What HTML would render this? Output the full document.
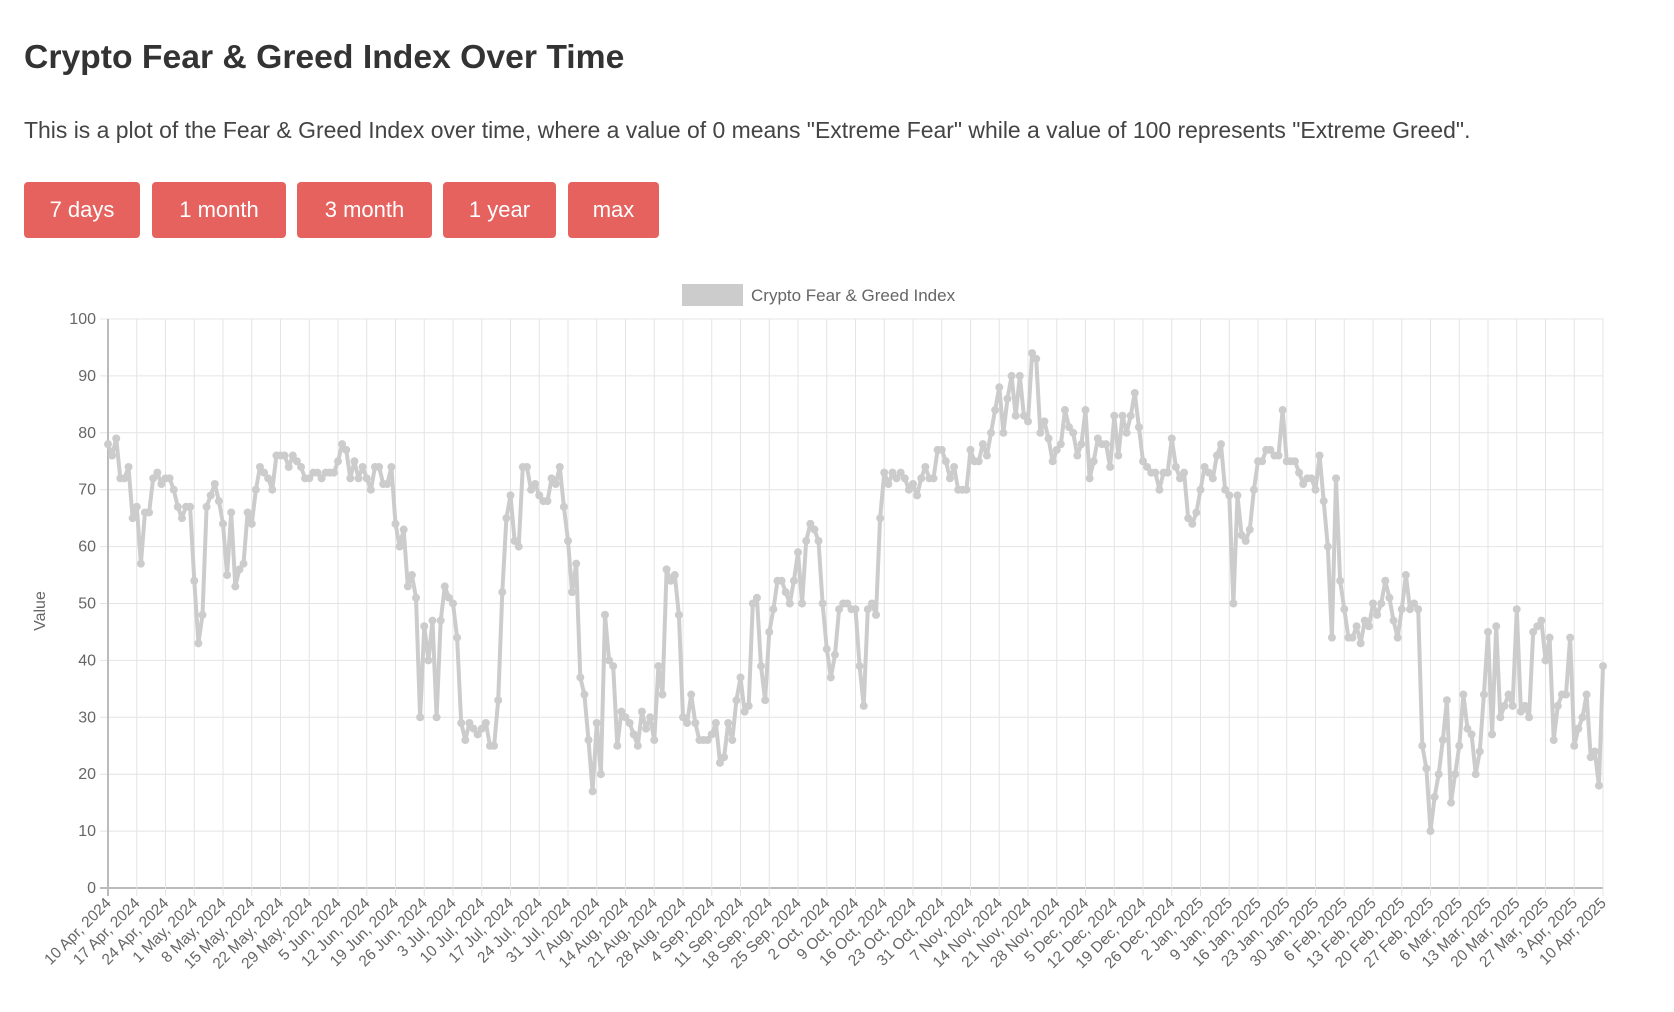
<!DOCTYPE html>
<html><head><meta charset="utf-8"><style>
html,body{margin:0;padding:0;background:#fff;width:1674px;height:1012px;overflow:hidden;font-family:"Liberation Sans",sans-serif;}
.title{position:absolute;left:24px;top:38px;font-size:33.7px;font-weight:bold;color:#333;margin:0;}
.desc{position:absolute;left:24px;top:117px;font-size:22.95px;color:#444;margin:0;white-space:nowrap;}
.btn{position:absolute;top:182px;height:56px;background:#e5625e;color:#fff;border:none;border-radius:4px;font-size:22px;font-family:"Liberation Sans",sans-serif;padding:0;}
svg{position:absolute;left:0;top:0;}
</style></head><body>
<h1 class="title">Crypto Fear &amp; Greed Index Over Time</h1>
<p class="desc">This is a plot of the Fear &amp; Greed Index over time, where a value of 0 means "Extreme Fear" while a value of 100 represents "Extreme Greed".</p>
<button class="btn" style="left:24px;width:116px">7 days</button>
<button class="btn" style="left:152px;width:134px">1 month</button>
<button class="btn" style="left:297px;width:135px">3 month</button>
<button class="btn" style="left:443px;width:113px">1 year</button>
<button class="btn" style="left:568px;width:91px">max</button>
<svg id="chart" width="1674" height="1012"></svg>
<script>
const startDate = [2024, 3, 10];
const skipAfterIndex = 196;
const values = [
78,76,79,72,72,74,65,67,57,66,66,72,73,71,72,72,70,67,65,67,67,54,43,48,67,69,71,68,64,55,66,53,56,57,66,64,70,74,73,72,70,76,76,76,74,76,75,74,72,72,73,73,72,73,73,73,75,78,77,72,75,72,74,72,70,74,74,71,71,74,64,60,63,53,55,51,30,46,40,47,30,47,53,51,50,44,29,26,29,28,27,28,29,25,25,33,52,65,69,61,60,74,74,70,71,69,68,68,72,71,74,67,61,52,57,
37,34,26,17,29,20,48,40,39,25,31,30,29,27,25,31,28,30,26,39,34,56,54,55,48,30,29,34,29,26,26,26,27,29,22,23,29,26,33,37,31,32,50,51,39,33,45,49,54,54,52,50,54,59,50,61,64,63,61,50,42,37,41,49,
50,50,49,49,39,32,49,50,48,65,73,71,73,72,73,72,70,71,69,72,74,72,72,77,77,75,72,74,70,70,70,77,75,75,78,76,80,84,88,80,86,90,83,90,83,82,94,93,80,82,79,75,77,78,84,81,80,76,78,84,72,75,79,
78,78,74,83,76,83,80,83,87,81,75,74,73,73,70,73,73,79,74,72,73,65,64,66,70,74,73,72,76,78,70,69,50,69,62,61,63,70,75,75,77,77,76,76,84,75,75,75,73,71,72,72,70,76,68,60,44,72,54,49,44,44,
46,43,47,46,50,48,50,54,51,47,44,49,55,49,50,49,25,21,10,16,20,26,33,15,20,25,34,28,27,20,24,34,45,27,46,30,32,34,32,49,31,32,30,45,46,47,40,44,26,32,34,34,44,25,28,30,34,23,24,18,39
];
const yTicks = [0,10,20,30,40,50,60,70,80,90,100];
const months = ["Jan","Feb","Mar","Apr","May","Jun","Jul","Aug","Sep","Oct","Nov","Dec"];

const NS = "http://www.w3.org/2000/svg";
const svg = document.getElementById("chart");
const X0 = 108, X1 = 1603, Y0 = 888, Y1 = 319;
const n = values.length;
function xScale(i){ return X0 + (X1 - X0) * i / (n - 1); }
function yScale(v){ return Y0 - (Y0 - Y1) * v / 100; }
function mk(tag, attrs){ const e = document.createElementNS(NS, tag); for (const k in attrs) e.setAttribute(k, attrs[k]); svg.appendChild(e); return e; }
function dateLabel(i){ const off = i + (i > skipAfterIndex ? 1 : 0); const d = new Date(startDate[0], startDate[1], startDate[2] + off, 12); return d.getDate() + " " + months[d.getMonth()] + ", " + d.getFullYear(); }

const xTickIdx = [];
for (let i = 0; i < n; i += 7) xTickIdx.push(i);
if (xTickIdx[xTickIdx.length - 1] !== n - 1) xTickIdx.push(n - 1);

yTicks.forEach(t => {
  const y = yScale(t);
  const g = mk("line", {x1: X0 - 8, x2: X1, y1: y, y2: y, stroke: t === 0 ? "#bbb" : "#e4e4e4", "stroke-width": t === 0 ? 2 : 1});
  
  
  const tx = mk("text", {x: X0 - 12, y: y + 5, "text-anchor": "end", "font-size": 16, fill: "#666", "font-family": "Liberation Sans, sans-serif"});
  tx.textContent = t;
  
  
});
xTickIdx.forEach(i => {
  const x = xScale(i);
  const g = mk("line", {x1: x, x2: x, y1: Y1, y2: Y0 + 8, stroke: i === 0 ? "#bbb" : "#e4e4e4", "stroke-width": i === 0 ? 2 : 1});
  
  
  const tx = mk("text", {x: x + 4, y: Y0 + 16, "text-anchor": "end", "font-size": 15.5, fill: "#666", "font-family": "Liberation Sans, sans-serif", transform: "rotate(-45 " + (x + 4) + " " + (Y0 + 16) + ")"});
  tx.textContent = dateLabel(i);
  
  
});
const yt = mk("text", {x: 45, y: 611, "text-anchor": "middle", "font-size": 16, fill: "#666", "font-family": "Liberation Sans, sans-serif", transform: "rotate(-90 45 611)"});
yt.textContent = "Value";


const lb = mk("rect", {x: 682, y: 284, width: 61, height: 22, fill: "#cccccc"});


const lt = mk("text", {x: 751, y: 301, "font-size": 17, fill: "#666", "font-family": "Liberation Sans, sans-serif"});
lt.textContent = "Crypto Fear & Greed Index";


let d = "";
values.forEach((v, i) => { d += (i ? "L" : "M") + xScale(i).toFixed(1) + "," + yScale(v).toFixed(1); });
const path = mk("path", {d: d, fill: "none", stroke: "#cccccc", "stroke-width": 4, "stroke-linejoin": "round"});


values.forEach((v, i) => {
  const c = mk("circle", {cx: xScale(i), cy: yScale(v), r: 4, fill: "#cccccc"});
  
  
});
</script>
</body></html>
